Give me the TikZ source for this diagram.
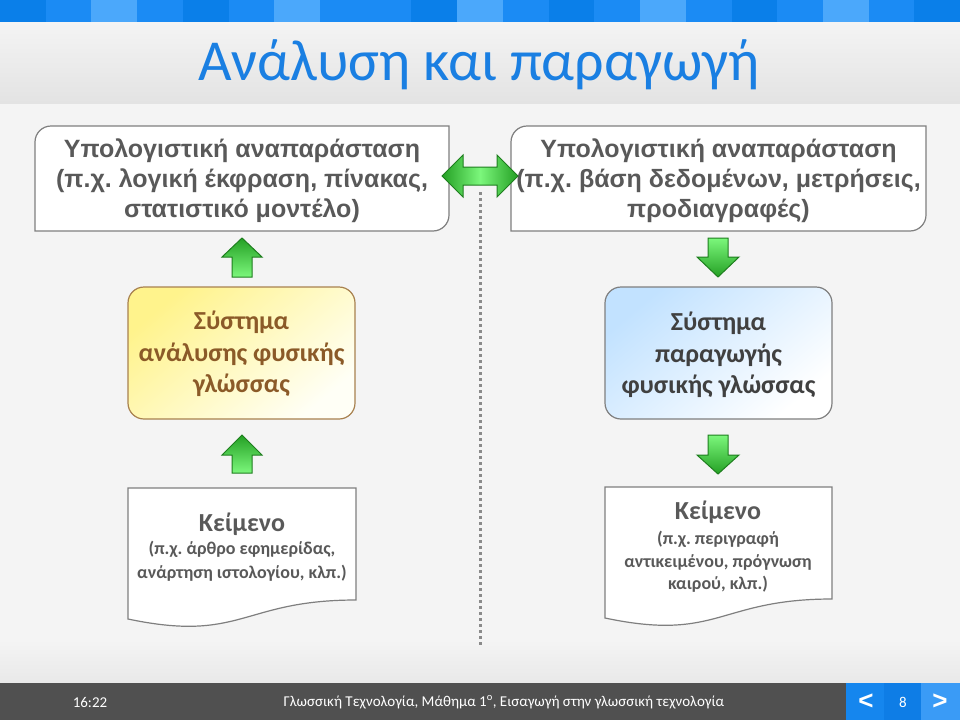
\documentclass[tikz,border=0pt]{standalone}
\usepackage{fontspec}
\setmainfont{Carlito}
\newfontfamily\arialf{Liberation Sans}
\usetikzlibrary{calc}
\definecolor{sd}{HTML}{0A7FE9}
\definecolor{sm}{HTML}{1B8BF4}
\definecolor{sl}{HTML}{4BA8FB}
\definecolor{titleblue}{HTML}{1A7FE2}
\definecolor{bodybg}{HTML}{F4F4F4}
\definecolor{hdtop}{HTML}{F4F4F4}
\definecolor{hdbot}{HTML}{E3E3E3}
\definecolor{txtgray}{HTML}{595959}
\definecolor{bordergray}{HTML}{7F7F7F}
\definecolor{brownt}{HTML}{8B5A28}
\definecolor{brownb}{HTML}{A8814F}
\definecolor{yellowa}{HTML}{FFF38C}
\definecolor{yellowb}{HTML}{FFFFF6}
\definecolor{bluea}{HTML}{C2E2FF}
\definecolor{blueb}{HTML}{FFFFFF}
\definecolor{darktxt}{HTML}{404040}
\definecolor{gdark}{HTML}{24A024}
\definecolor{glight}{HTML}{7CF77C}
\definecolor{gborder}{HTML}{1E7E1E}
\definecolor{footbg}{HTML}{505050}
\definecolor{fba}{HTML}{1586EE}
\definecolor{fbb}{HTML}{0E7DE6}
\definecolor{fbc}{HTML}{3A9BF6}
\definecolor{dotgray}{HTML}{8A8A8A}
\tikzset{
  topbox/.style={draw=bordergray, line width=1.2pt, fill=white},
  toptext/.style={font=\arialf\bfseries\fontsize{25}{30}\selectfont, text=txtgray, align=center, inner sep=0pt},
  systext/.style={font=\bfseries\fontsize{26}{31.5}\selectfont, align=center, inner sep=0pt},
  docbox/.style={draw=bordergray, line width=1.2pt, fill=white},
  doctitle/.style={font=\bfseries\fontsize{26}{28}\selectfont, text=txtgray, inner sep=0pt},
  doctext/.style={font=\bfseries\fontsize{18}{23.5}\selectfont, text=txtgray, align=center, inner sep=0pt},
  greenarrow/.style={draw=gborder, line width=1pt, line join=miter},
  foottext/.style={font=\fontsize{15}{18}\selectfont, text=white, inner sep=0pt},
}
\frenchspacing
\begin{document}
\begin{tikzpicture}[x=1pt,y=-1pt]
\useasboundingbox (0,0) rectangle (960,720);
% background
\fill[bodybg] (0,0) rectangle (960,720);
\shade[top color=hdtop, bottom color=hdbot] (0,22) rectangle (960,103);
\shade[top color=bodybg, bottom color=hdbot!80] (0,640) rectangle (960,683);
% stripes
\foreach \c [count=\i from 0] in {sd,sm,sl,sm,sd,sm,sl,sm,sm,sd,sl,sm,sd,sm,sl,sm,sd,sm,sl,sm,sd}{
  \fill[\c] ({\i*45.72},0) rectangle ({(\i+1)*45.72+0.5},22);
}
% title
\node[font=\fontsize{58}{60}\selectfont, text=titleblue, anchor=base, inner sep=0pt] (title) at (479,80) {Ανάλυση και παραγωγή};

% dotted separator
\coordinate (dtop) at (480,192);
\coordinate (dbot) at (480,645);
\draw[dotgray, line width=3pt, dash pattern=on 3pt off 3pt] (dtop) -- (dbot);

% top boxes
\draw[topbox] (35,142) .. controls (35,133.2) and (42.2,126) .. (51,126) -- (449,126) -- (449,215) .. controls (449,223.8) and (441.8,231) .. (433,231) -- (35,231) -- cycle;
\node[toptext] (repL) at (242,181) {Υπολογιστική αναπαράσταση\\(π.χ. λογική έκφραση, πίνακας,\\στατιστικό μοντέλο)};
\draw[topbox] (511,142) .. controls (511,133.2) and (518.2,126) .. (527,126) -- (926,126) -- (926,215) .. controls (926,223.8) and (918.8,231) .. (910,231) -- (511,231) -- cycle;
\node[toptext] (repR) at (718.5,181) {Υπολογιστική αναπαράσταση\\(π.χ. βάση δεδομένων, μετρήσεις,\\προδιαγραφές)};

% double arrow
\path[greenarrow, left color=gdark, right color=gdark, middle color=glight, draw=gborder]
  (442,176) -- (463,155) -- (463,167) -- (497,167) -- (497,155) -- (518,176) -- (497,197) -- (497,185) -- (463,185) -- (463,197) -- cycle;

% system boxes
\draw[draw=brownb, line width=1.2pt, rounded corners=16pt, top color=yellowa, bottom color=yellowb, shading angle=40] (128,287) rectangle (355,419);
\node[systext, text=brownt] (ana) at (241.5,354) {Σύστημα\\ανάλυσης φυσικής\\γλώσσας};
\draw[draw=bordergray, line width=1.2pt, rounded corners=16pt, top color=bluea, bottom color=blueb, shading angle=40] (605,287) rectangle (832,419);
\node[systext, text=darktxt] (gen) at (718.5,355) {Σύστημα\\παραγωγής\\φυσικής γλώσσας};

% up arrows (left)
\path[greenarrow, top color=gdark, bottom color=glight] (242,238) -- (262,257) -- (252,257) -- (252,277) -- (232,277) -- (232,257) -- (222,257) -- cycle;
\path[greenarrow, top color=gdark, bottom color=glight] (242,435) -- (262,455) -- (252,455) -- (252,473) -- (232,473) -- (232,455) -- (222,455) -- cycle;
% down arrows (right)
\path[greenarrow, top color=glight, bottom color=gdark] (708,238) -- (728,238) -- (728,257) -- (739,257) -- (718,277) -- (697,257) -- (708,257) -- cycle;
\path[greenarrow, top color=glight, bottom color=gdark] (708,435) -- (728,435) -- (728,455) -- (739,455) -- (718,474) -- (697,455) -- (708,455) -- cycle;

% documents
\draw[docbox] (128,488) -- (356,488) -- (356,600) .. controls (242,600) and (242,643) .. (128,619) -- cycle;
\node[doctitle] (docLt) at (242,524) {Κείμενο};
\node[doctext] (docLx) at (242,561) {(π.χ. άρθρο εφημερίδας,\\ανάρτηση ιστολογίου, κλπ.)};
\draw[docbox] (605,487) -- (832,487) -- (832,599) .. controls (718.5,599) and (718.5,642) .. (605,618) -- cycle;
\node[doctitle] (docRt) at (718,512) {Κείμενο};
\node[doctext, font=\bfseries\fontsize{18}{22.5}\selectfont] (docRx) at (718,562) {(π.χ. περιγραφή\\αντικειμένου, πρόγνωση\\καιρού, κλπ.)};

% footer
\fill[footbg] (0,683) rectangle (960,720);
\fill[fba] (846,683) rectangle (884,720);
\fill[fbb] (884,683) rectangle (921,720);
\fill[fbc] (921,683) rectangle (960,720);
\node[foottext] (time) at (90,702) {16:22};
\node[foottext] (course) at (504,702) {Γλωσσική Τεχνολογία, Μάθημα 1\textsuperscript{ο}, Εισαγωγή στην γλωσσική τεχνολογία};
\node[foottext, font=\arialf\bfseries\fontsize{26}{28}\selectfont] (prev) at (866,702) {<};
\node[foottext] (page) at (903,702) {8};
\node[foottext, font=\arialf\bfseries\fontsize{26}{28}\selectfont] (next) at (940,702) {>};
\end{tikzpicture}
\end{document}
